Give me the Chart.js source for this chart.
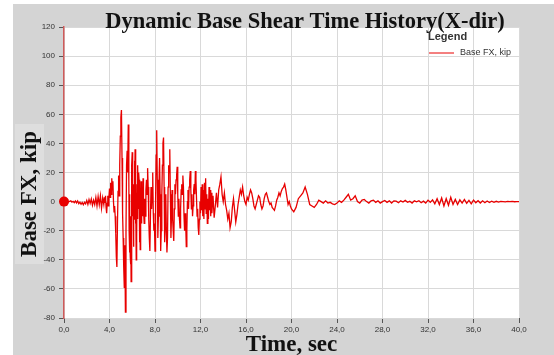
<!DOCTYPE html>
<html>
<head>
<meta charset="utf-8">
<script src="https://cdn.jsdelivr.net/npm/chart.js@4.4.1/dist/chart.umd.min.js"></script>
<style>
  html, body { margin: 0; padding: 0; background: #fff; }
  #wrap { width: 554px; height: 355px; }
</style>
</head>
<body>
<div id="wrap"><canvas id="shear"></canvas></div>
<script>
// time (sec) and base shear FX (kip)
const times = [
  0.0, 0.1, 0.2, 0.3, 0.4, 0.5, 0.6, 0.7, 0.8, 0.9,
  1.0, 1.1, 1.2, 1.3, 1.4, 1.5, 1.6, 1.7, 1.8, 1.9,
  2.0, 2.1, 2.2, 2.3, 2.4, 2.5, 2.6, 2.7, 2.8, 2.9,
  3.0, 3.1, 3.2, 3.3, 3.4,
  3.50, 3.55, 3.60, 3.65, 3.70, 3.75, 3.80, 3.85, 3.90, 3.95,
  4.00, 4.05, 4.10, 4.15, 4.20, 4.25, 4.30, 4.35, 4.40, 4.45,
  4.50, 4.55, 4.60, 4.65, 4.70, 4.75, 4.80, 4.85, 4.90, 4.95,
  5.00, 5.05, 5.10, 5.15, 5.20, 5.25, 5.30, 5.35, 5.40, 5.45,
  5.50, 5.55, 5.60, 5.65,
  5.700, 5.725, 5.750, 5.775, 5.800, 5.825, 5.850, 5.875,
  5.900, 5.925, 5.950, 5.975, 6.000, 6.025, 6.050, 6.075,
  6.100, 6.125, 6.150, 6.175, 6.200, 6.225, 6.250, 6.275,
  6.300, 6.325, 6.350, 6.375, 6.400, 6.425, 6.450, 6.475,
  6.500, 6.525, 6.550, 6.575, 6.600, 6.625, 6.650, 6.675,
  6.700, 6.725, 6.750, 6.775, 6.800, 6.825, 6.850, 6.875,
  6.900, 6.925, 6.950, 6.975,
  7.00, 7.05, 7.10, 7.15, 7.20, 7.25, 7.30, 7.35, 7.40, 7.45,
  7.50, 7.55, 7.60, 7.65, 7.70, 7.75, 7.80, 7.85, 7.90, 7.95,
  8.00, 8.05, 8.10, 8.15, 8.20, 8.25, 8.30, 8.35, 8.40, 8.45,
  8.50, 8.55, 8.60, 8.65, 8.70, 8.75, 8.80, 8.85, 8.90, 8.95,
  9.00, 9.05, 9.10, 9.15, 9.20, 9.25, 9.30, 9.35, 9.40, 9.45,
  9.50, 9.55, 9.60, 9.65, 9.70, 9.75, 9.80, 9.85, 9.90, 9.95,
  10.00, 10.05, 10.10, 10.15, 10.20, 10.25, 10.30, 10.35, 10.40, 10.45,
  10.50, 10.55, 10.60, 10.65, 10.70, 10.75, 10.80, 10.85, 10.90, 10.95,
  11.00, 11.05, 11.10, 11.15, 11.20, 11.25, 11.30, 11.35, 11.40, 11.45,
  11.50, 11.55, 11.60, 11.65, 11.70, 11.75, 11.80, 11.85, 11.90, 11.95,
  12.00, 12.05, 12.10, 12.15, 12.20, 12.25, 12.30, 12.35, 12.40, 12.45,
  12.50, 12.55, 12.60, 12.65, 12.70, 12.75, 12.80, 12.85, 12.90, 12.95,
  13.0,
  13.1, 13.2, 13.3, 13.4, 13.5, 13.6, 13.7, 13.8, 13.9, 14.0,
  14.1, 14.2, 14.3, 14.4, 14.5, 14.6, 14.7, 14.8, 14.9, 15.0,
  15.1, 15.2, 15.3, 15.4, 15.5, 15.6, 15.7, 15.8, 15.9, 16.0,
  16.1, 16.2, 16.3, 16.4, 16.5, 16.6, 16.7, 16.8, 16.9, 17.0,
  17.1, 17.2, 17.3, 17.4, 17.5, 17.6, 17.7, 17.8, 17.9, 18.0,
  18.1, 18.2, 18.3, 18.4, 18.5, 18.6, 18.7, 18.8, 18.9, 19.0,
  19.1, 19.2, 19.3, 19.4, 19.5, 19.6, 19.7, 19.8, 19.9, 20.0,
  20.2, 20.4, 20.6, 20.8, 21.0, 21.2, 21.4, 21.6, 21.8, 22.0,
  22.2, 22.4, 22.6, 22.8, 23.0, 23.2, 23.4, 23.6, 23.8, 24.0,
  24.2, 24.4, 24.6, 24.8, 25.0, 25.2, 25.4, 25.6, 25.8, 26.0,
  26.2, 26.4, 26.6, 26.8, 27.0, 27.2, 27.4, 27.6, 27.8, 28.0,
  28.2, 28.4, 28.6, 28.8, 29.0, 29.2, 29.4, 29.6, 29.8, 30.0,
  30.2, 30.4, 30.6, 30.8, 31.0, 31.2, 31.4, 31.6, 31.8, 32.0,
  32.2, 32.4, 32.6, 32.8, 33.0, 33.2, 33.4, 33.6, 33.8, 34.0,
  34.2, 34.4, 34.6, 34.8, 35.0, 35.2, 35.4, 35.6, 35.8, 36.0,
  36.2, 36.4, 36.6, 36.8, 37.0, 37.2, 37.4, 37.6, 37.8, 38.0,
  38.2, 38.4, 38.6, 38.8, 39.0, 39.2, 39.4, 39.6, 39.8, 40.0
];

const baseFx = [
  0, 0.3, -0.2, 0.4, -0.3, 0.2, 0.6, -0.4, 0.2, -0.7,
  0.4, -0.9, 0.5, -1.4, -0.4, -1.8, -0.6, -2.2, -0.5, -1.6,
  0.8, -1.9, 1.4, -1.2, 1.8, -2.5, 1.0, -2.0, 2.8, -3.0,
  3.5, -2.2, 4.0, -4.5, 2.5,
  -2, 3, -1, 4, -4, -8, -1, 4, -3, 3,
  9, 3, 13, 5, 16, 8, 14, 0, -7, -3,
  -10, -22, -38, -45, -15, 7, 18, 4, 25, 45,
  58, 63, 30, -8, -25, -45, -59, -30, -76, -20,
  25, 35, 20, 53,
  15, -20, -35, 5, -20, -38, -43, -10,
  -55, -25, 5, 25, 34, 8, -10, 12,
  -31, -5, 10, -12, 28, 5, 36, 12,
  -15, 8, -40, -10, -25, 12, 10, -12,
  25, 2, -5, 20, 15, -12, -28, 0,
  -33, -12, -5, 14, 10, -15, -8, 10,
  5, -10, 16, 0,
  -6, -15, 2, -10, 8, 15, 5, 23, 10, -12,
  -25, -34, -10, 10, -5, 5, 20, -8, -20, -15,
  -34, 0, 32, 49, 15, -25, -10, 12, 30, 5,
  -34, -20, 5, 25, 40, 44, 10, -28, -15, 5,
  -20, -35, -25, 10, 25, 20, 36, 5, -25, -10,
  8, -12, -20, -27, -5, 12, 5, 15, 18, 24,
  5, -10, 2, -12, -18, -5, 8, 12, 5, 18,
  10, -10, -20, -8, -15, -31, -20, 0, 8, -5,
  10, 15, 21, 8, -5, 5, -10, -3, 8, 12,
  5, 21, 15, 2, -10, -5, -18, -23, -12, 0,
  -8, 10, -6, 12, -10, 8, -12, 13, -5, 16,
  -8, 5, -15, 2, -12, 10, -6, 8, -10, 6,
  -8,
  4, -11, -3, 6, -4, 8, 12, 17, 5, 0,
  6, -2, -6, -12, -8, -18, -14, -4, 2, -6,
  -14, -9, -2, 3, 8, 5, 10, 4, 0, -2,
  3, 1, 5, 8, 6, 2, -3, -5, -2, 1,
  4, 3, -2, -5, -3, 2, 5, 6, 3, 0,
  -2, -1, -4, -5, -6, -3, 1, 3, 6, 4,
  7, 9, 10, 12, 8, 3, -2, 0, -3, -5,
  -7, -4, 2, 4, 6, 10, 5, -2, -3, -4,
  -2, 1, 0, -1, 0.5, -1, -0.5, -1.5, -2, -1,
  0.5, -0.5, 1, 3, 5, 1, 2, 4, 0, -1,
  1, 1.5, 0, -1, 0.5, 1, -0.5, 0.5, -1, 0,
  0.8, -0.5, 0.5, -1, 0.5, 0.3, -0.8, 0.5, -0.3, 0.8,
  -0.5, 0.2, -1, 0.5, -0.2, 0.6, -0.8, 0.3, -1, 1,
  -0.5, 1.2, -1.5, 2, -2, 2.5, -3, 2, -2.5, 3,
  -2, 1.5, -2, 1.2, -1, 1.5, -1.2, 0.8, -1.5, 1,
  -0.8, 0.6, -1, 0.5, -0.8, 0.4, -0.6, 0.3, -0.5, 0.2,
  -0.3, 0.2, 0, -0.2, 0.1, 0, 0.1, -0.1, 0, 0
];

const chartTitle = "Dynamic Base Shear Time History(X-dir)";
const seriesLabel = "Base FX, kip";
const xRange = [0, 40];
const xStep = 4;
const yRange = [-80, 120];
const yStep = 20;

const RED = "rgb(232,0,0)";
const GRAY_BG = "#d4d4d4";

// backdrop, titles and the in-plot legend
const framePlugin = {
  id: "frame",
  beforeDraw(chart) {
    const { ctx, chartArea: a, width, height } = chart;
    ctx.save();
    ctx.fillStyle = "#fff";
    ctx.fillRect(0, 0, width, height);
    ctx.fillStyle = GRAY_BG;
    ctx.fillRect(13, 4, width - 13, height - 4);
    ctx.fillStyle = "#fff";
    ctx.fillRect(a.left, a.top, a.right - a.left, a.bottom - a.top);
    // lighter patch behind the y title
    ctx.fillStyle = "#dedede";
    ctx.fillRect(15, 124, 29, 140);
    ctx.restore();
  },
  afterDraw(chart) {
    const { ctx, chartArea: a } = chart;

    // main title, sits over the top edge of the plot
    ctx.save();
    ctx.fillStyle = "#111";
    ctx.font = "bold 22.5px 'Liberation Serif'";
    ctx.textAlign = "center";
    ctx.textBaseline = "alphabetic";
    ctx.fillText(chartTitle, 305, 28);
    ctx.restore();

    // y axis title
    ctx.save();
    ctx.translate(30, 194);
    ctx.rotate(-Math.PI / 2);
    ctx.fillStyle = "#111";
    ctx.font = "bold 23px 'Liberation Serif'";
    ctx.textAlign = "center";
    ctx.textBaseline = "middle";
    ctx.fillText("Base FX, kip", 0, 0);
    ctx.restore();

    // legend
    const lx = a.right - 91;
    ctx.save();
    ctx.fillStyle = "#333";
    ctx.textBaseline = "middle";
    ctx.font = "bold 11px 'Liberation Sans'";
    ctx.fillText("Legend", lx, a.top + 10);
    ctx.strokeStyle = chart.data.datasets[0].borderColor;
    ctx.lineWidth = 1;
    ctx.beginPath();
    ctx.moveTo(lx + 1, a.top + 26);
    ctx.lineTo(lx + 26, a.top + 26);
    ctx.stroke();
    ctx.font = "9px 'Liberation Sans'";
    ctx.fillText(chart.data.datasets[0].label, lx + 32, a.top + 26);
    ctx.restore();
  }
};

const ctx = document.getElementById("shear").getContext("2d");

new Chart(ctx, {
  type: "line",
  data: {
    datasets: [{
      label: seriesLabel,
      data: times.map((t, i) => ({ x: t, y: baseFx[i] })),
      borderColor: RED,
      backgroundColor: RED,
      borderWidth: 1.3,
      tension: 0,
      fill: false,
      clip: false,
      pointRadius: c => (c.dataIndex === 0 ? 5 : 0),
      pointBorderWidth: 0,
      pointHoverRadius: 0,
    }],
  },
  options: {
    responsive: true,
    maintainAspectRatio: false,
    animation: false,
    events: [],
    layout: { padding: { left: 0, right: 35, top: 27, bottom: 0 } },
    plugins: {
      legend: { display: false },
      tooltip: { enabled: false },
      title: { display: false },
    },
    scales: {
      x: {
        type: "linear",
        min: xRange[0],
        max: xRange[1],
        afterFit: s => { s.height = 37; },
        border: { display: false },
        grid: { color: "#d9d9d9", tickColor: "#555", tickLength: 5 },
        ticks: {
          stepSize: xStep,
          autoSkip: false,
          maxRotation: 0,
          padding: 2,
          color: "#333",
          font: { family: "'Liberation Sans'", size: 8 },
          callback: v => v.toFixed(1).replace(".", ","),
        },
        title: {
          display: true,
          text: "Time, sec",
          color: "#111",
          font: { family: "'Liberation Serif'", size: 23, weight: "bold", lineHeight: 1.2 },
          padding: { top: 0, bottom: -4 },
        },
      },
      y: {
        min: yRange[0],
        max: yRange[1],
        afterFit: s => { s.width = 64; },
        border: { color: "#cf5a5a", width: 1.5 },
        grid: { color: "#d9d9d9", tickColor: "#555", tickLength: 5 },
        ticks: {
          stepSize: yStep,
          padding: 4,
          color: "#333",
          font: { family: "'Liberation Sans'", size: 8 },
        },
      },
    },
  },
  plugins: [framePlugin],
});
</script>
</body>
</html>
